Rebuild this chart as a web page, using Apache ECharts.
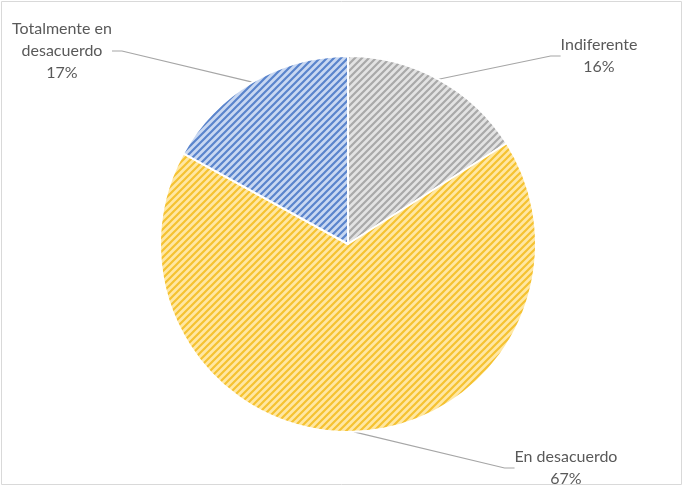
<!DOCTYPE html>
<html><head><meta charset="utf-8">
<script src="https://cdn.jsdelivr.net/npm/echarts@6/dist/echarts.min.js"></script>
<style>html,body{margin:0;padding:0;background:#fff}#c{width:683px;height:486px}</style>
</head><body><div id="c"></div>
<script>
const categories = ['Indiferente', 'En desacuerdo', 'Totalmente en desacuerdo'];
const labelTexts = ['Indiferente', 'En desacuerdo', 'Totalmente en\ndesacuerdo'];
const values = [16, 67, 17];
const bgColors = ['#e3e3e3', '#ffe7a3', '#c9d8f2'];
const stripeColors = ['#a9a9a9', '#f5c231', '#5a84cc'];

function makePattern(bg, fg) {
  const s = 7;
  const c = document.createElement('canvas');
  c.width = s; c.height = s;
  const ctx = c.getContext('2d');
  ctx.fillStyle = bg; ctx.fillRect(0, 0, s, s);
  ctx.strokeStyle = fg; ctx.lineWidth = 2.2;
  ctx.beginPath();
  for (let k = -1; k <= 1; k++) {
    ctx.moveTo(-1 + k * s, s + 1);
    ctx.lineTo(s + 1 + k * s, -1);
  }
  ctx.stroke();
  return c;
}

const labelPos = [
  {x: 599, y: 56},
  {x: 566, y: 468},
  {x: 62, y: 51}
];

const chart = echarts.init(document.getElementById('c'));
chart.setOption({
  animation: false,
  graphic: [{
    type: 'rect', shape: {x: 1.5, y: 1.5, width: 680, height: 483},
    style: {fill: 'none', stroke: '#d9d9d9', lineWidth: 1}, silent: true
  }],
  series: [{
    type: 'pie',
    center: [348, 244],
    radius: [0, 188],
    startAngle: 90,
    clockwise: true,
    data: categories.map((n, i) => ({
      name: n, value: values[i],
      itemStyle: {color: {image: makePattern(bgColors[i], stripeColors[i]), repeat: 'repeat'}},
      label: {formatter: labelTexts[i] + '\n{d}%'}
    })),
    itemStyle: {borderColor: '#fff', borderWidth: 2},
    label: {
      show: true, position: 'outside', color: '#595959',
      fontFamily: 'Lato, "Open Sans", sans-serif', fontSize: 16, lineHeight: 22, align: 'center'
    },
    labelLine: {show: true, lineStyle: {color: '#a6a6a6', width: 1.2}, length: 20, length2: 10},
    labelLayout: function (p) {
      const q = labelPos[p.dataIndex];
      return {x: q.x, y: q.y, align: 'center', verticalAlign: 'middle'};
    }
  }]
});
</script></body></html>
